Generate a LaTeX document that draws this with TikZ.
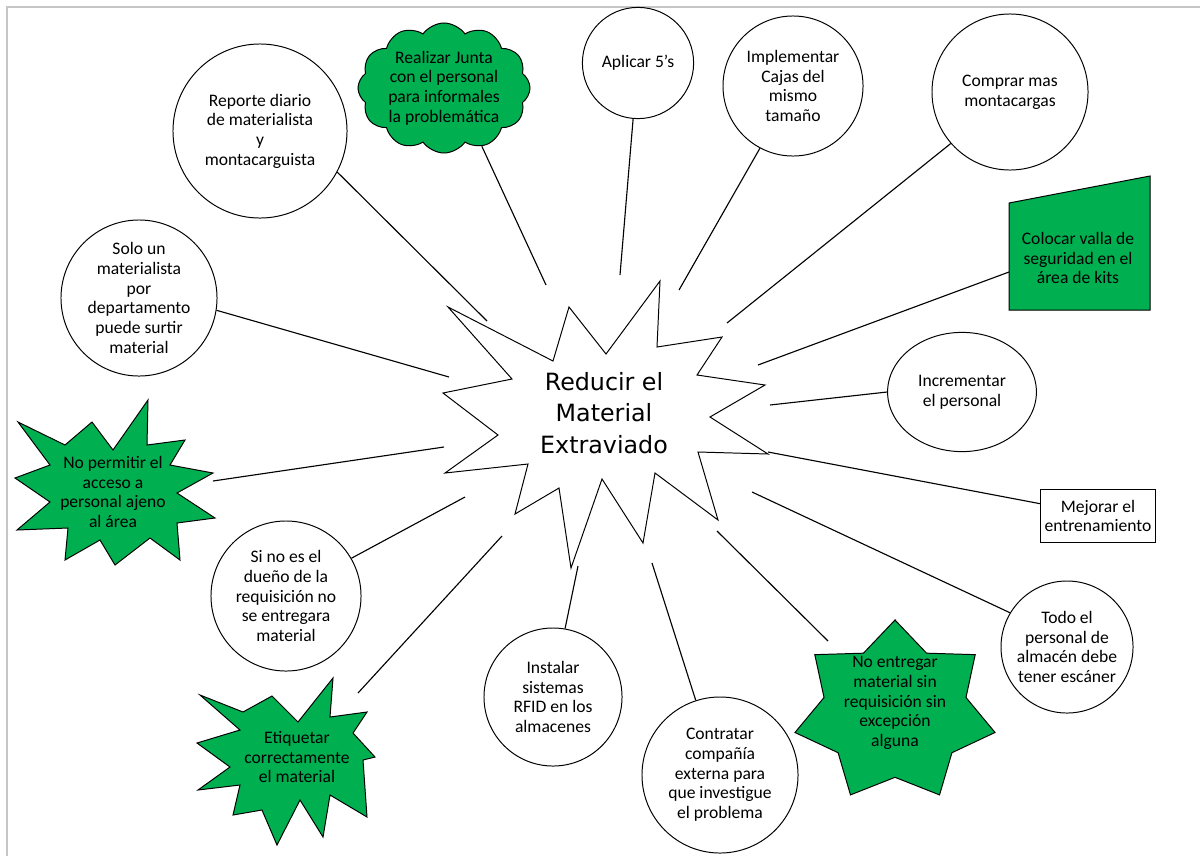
\documentclass[tikz,border=0pt]{standalone}
\usepackage{fontspec}
\setmainfont{Carlito}
\newfontfamily\metafont{DejaVu Sans}
\usepackage{tikz}
\usetikzlibrary{shapes.geometric,shapes.symbols}

\definecolor{verdeok}{HTML}{00B050}

\begin{document}
\begin{tikzpicture}[x=0.025cm, y=-0.025cm,
	texto/.style={align=center, font=\fontsize{12.5}{14}\selectfont},
	idea/.style={texto, circle, draw, line width=0.7pt, inner sep=0pt},
	verde/.style={draw, line width=0.7pt, fill=verdeok},
	enlace/.style={line width=0.8pt}]
	\useasboundingbox (0,0) rectangle (1200,856);
	\draw[gray!45, line width=1.4pt] (7,856) -- (7,7) -- (1200,7);

	% estrella central
	\draw[line width=0.7pt, fill=white] (448,307) -- (553,361) -- (569,307) -- (606,354)
		-- (660,281) -- (657,347) -- (722,337) -- (697,375) -- (765,385) -- (710,417)
		-- (768,454) -- (698,452) -- (718,520) -- (655,473) -- (643,543) -- (602,479)
		-- (571,568) -- (559,488) -- (515,514) -- (528,464) -- (445,473) -- (498,435)
		-- (443,393) -- (512,379) -- cycle;
	\node[align=center, font=\metafont\fontsize{16.9}{22.3}\selectfont] (meta) at (604,413) {Reducir el\\Material\\Extraviado};

	% ideas
	\node[idea, minimum size=4.35cm] (rep) at (260,131) {Reporte diario\\de materialista\\y\\montacarguista};
	\node[texto, verde, cloud, cloud puffs=12, cloud puff arc=110, cloud ignores aspect, minimum width=4.3cm, minimum height=3.25cm, inner sep=0pt] (junta) at (444,88) {Realizar Junta\\con el personal\\para informales\\la problemática};
	\node[idea, minimum size=2.78cm] (cinco) at (638,63) {Aplicar 5’s};
	\node[idea, minimum size=3.5cm] (cajas) at (793,86) {Implementar\\Cajas del\\mismo\\tamaño};
	\node[idea, minimum size=3.9cm] (compra) at (1010,92) {Comprar mas\\montacargas};
	\draw[verde] (1009,203) -- (1150,176) -- (1150,310) -- (1009,310) -- cycle;
	\node[texto] (valla) at (1078,258) {Colocar valla de\\seguridad en el\\área de kits};
	\coordinate (vallaL) at (1009,272);
	\node[texto, ellipse, draw, line width=0.7pt, minimum width=3.72cm, minimum height=2.98cm, inner sep=0pt] (incr) at (962,392) {Incrementar\\el personal};
	\node[texto, draw, line width=0.7pt, minimum width=2.88cm, minimum height=1.34cm, inner sep=0pt] (mejora) at (1098,516) {Mejorar el\\entrenamiento};
	\node[idea, minimum size=3.3cm] (todo) at (1067,647) {Todo el\\personal de\\almacén debe\\tener escáner};
	\draw[verde] (895,620) \foreach \k in {0,...,6} {
		-- ({895+72.8*cos(115.71+51.43*\k)}, {712-65.3*sin(115.71+51.43*\k)})
		-- ({895+102.6*cos(141.43+51.43*\k)}, {712-92*sin(141.43+51.43*\k)})} -- cycle;
	\node[texto] (entrega) at (895,703) {No entregar\\material sin\\requisición sin\\excepción\\alguna};
	\coordinate (qEntrega) at (828,641);
	\node[idea, minimum size=3.9cm] (contr) at (720,775) {Contratar\\compañía\\externa para\\que investigue\\el problema};
	\node[idea, minimum size=3.45cm] (inst) at (553,697) {Instalar\\sistemas\\RFID en los\\almacenes};
	\draw[verde] (200,695) -- (243,712) -- (272,696) -- (298,722) -- (333,678) -- (330,717)
		-- (367,712) -- (353,733) -- (375,757) -- (363,760) -- (367,817) -- (330,795)
		-- (323,837) -- (300,800) -- (277,845) -- (262,810) -- (233,815) -- (240,785)
		-- (198,790) -- (230,767) -- (197,743) -- (240,730) -- cycle;
	\node[texto] (etiq) at (297,757) {Etiquetar\\correctamente\\el material};
	\coordinate (qEtiq) at (358,693);
	\node[idea, minimum size=3.75cm] (duen) at (286,596) {Si no es el\\dueño de la\\requisición no\\se entregara\\material};
	\draw[verde] (18,422) -- (65,445) -- (92,422) -- (113,450) -- (148,400) -- (147,445)
		-- (185,440) -- (170,465) -- (213,473) -- (177,493) -- (215,518) -- (177,523)
		-- (180,560) -- (150,538) -- (115,565) -- (100,540) -- (65,560) -- (68,528)
		-- (17,530) -- (50,502) -- (15,478) -- (50,465) -- cycle;
	\node[texto] (permit) at (113,492) {No permitir el\\acceso a\\personal ajeno\\al área};
	\coordinate (qPermit) at (213,481);
	\node[idea, minimum size=3.9cm] (solo) at (139,298) {Solo un\\materialista\\por\\departamento\\puede surtir\\material};

	% puntos junto a la estrella
	\coordinate (pRep) at (487,321);
	\coordinate (pJunta) at (546,285);
	\coordinate (pCinco) at (620,275);
	\coordinate (pCajas) at (679,290);
	\coordinate (pCompra) at (727,323);
	\coordinate (pValla) at (758,365);
	\coordinate (pIncr) at (770,405);
	\coordinate (pMejora) at (768,452);
	\coordinate (pTodo) at (752,492);
	\coordinate (pEntrega) at (717,531);
	\coordinate (pContr) at (652,563);
	\coordinate (pInst) at (578,566);
	\coordinate (pEtiq) at (502,536);
	\coordinate (pDuen) at (465,497);
	\coordinate (pPermit) at (444,447);
	\coordinate (pSolo) at (449,377);

	\draw[enlace] (rep.-28) -- (pRep);
	\draw[enlace] (junta.-57) -- (pJunta);
	\draw[enlace] (cinco.-95) -- (pCinco);
	\draw[enlace] (cajas.-118) -- (pCajas);
	\draw[enlace] (compra.-139) -- (pCompra);
	\draw[enlace] (vallaL) -- (pValla);
	\draw[enlace] (incr.180) -- (pIncr);
	\draw[enlace] (mejora.168) -- (pMejora);
	\draw[enlace] (todo.149) -- (pTodo);
	\draw[enlace] (qEntrega) -- (pEntrega);
	\draw[enlace] (contr.108) -- (pContr);
	\draw[enlace] (inst.80) -- (pInst);
	\draw[enlace] (qEtiq) -- (pEtiq);
	\draw[enlace] (duen.30) -- (pDuen);
	\draw[enlace] (qPermit) -- (pPermit);
	\draw[enlace] (solo.-9) -- (pSolo);
\end{tikzpicture}
\end{document}
